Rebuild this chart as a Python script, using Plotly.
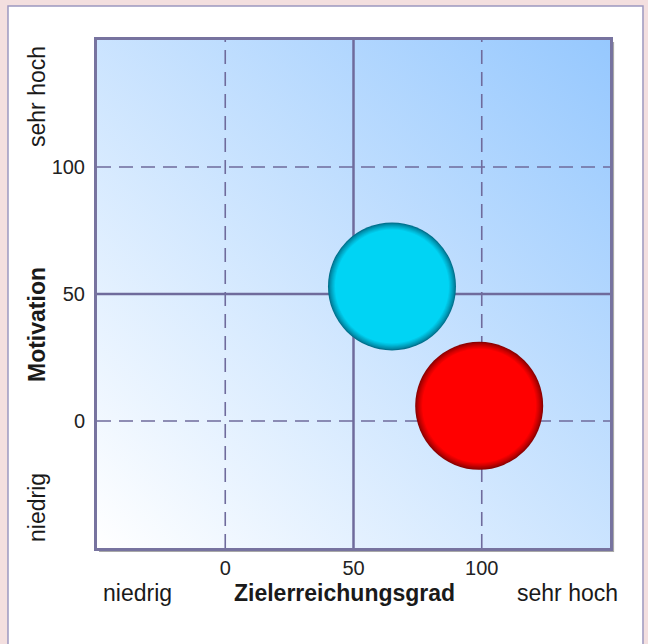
import plotly.graph_objects as go

# ---- data ----
SERIES = ["A", "B"]
X_VALUES = [65, 99]          # Zielerreichungsgrad
Y_VALUES = [53, 6]           # Motivation
BUBBLE_COLORS = ["#00d4f4", "#ff0000"]
RIM_COLORS = ["#00708c", "#8a0000"]
X_TICKS = [0, 50, 100]
Y_TICKS = [0, 50, 100]
X_RANGE = [-50, 150]
Y_RANGE = [-50, 150]
MID = 50

FONT = "Liberation Sans, Arial, sans-serif"
GRID_COLOR = "#6f6b9c"


def blend(c1, c2, t):
    a = [int(c1[i:i + 2], 16) for i in (1, 3, 5)]
    b = [int(c2[i:i + 2], 16) for i in (1, 3, 5)]
    return "#" + "".join(f"{round(a[k] + (b[k] - a[k]) * t):02x}" for k in range(3))


fig = go.Figure()

# bubbles: shaded rim rings + flat body
RING_SIZES = [128, 126, 124, 122, 120, 118, 116, 114]
for name, x, y, c, rim in zip(SERIES, X_VALUES, Y_VALUES, BUBBLE_COLORS, RIM_COLORS):
    n = len(RING_SIZES)
    for i, s in enumerate(RING_SIZES):
        t = (i / (n - 1)) ** 0.8
        fig.add_trace(go.Scatter(
            x=[x], y=[y], mode="markers", name=name, showlegend=False, hoverinfo="skip",
            marker=dict(size=s, color=blend(rim, c, t), line=dict(width=0)),
        ))

shapes = []
# white panel and border shadow (paper-level decoration)
shapes.append(dict(type="rect", xref="paper", yref="paper", x0=-0.1735, x1=1.0643,
                   y0=-0.25, y1=1.0669, layer="below",
                   fillcolor="white", line=dict(color="#9c98c0", width=1.5)))
shapes.append(dict(type="rect", xref="paper", yref="paper", x0=0.004, x1=1.008,
                   y0=-0.008, y1=0.996, layer="below",
                   fillcolor="#a8a8a8", line=dict(width=0)))
# grid lines (dashed, solid in the middle)
for v in X_TICKS:
    shapes.append(dict(type="line", xref="x", yref="y", x0=v, x1=v, y0=Y_RANGE[0], y1=Y_RANGE[1],
                       layer="between",
                       line=dict(color=GRID_COLOR, width=2.5 if v == MID else 1.6,
                                 dash="solid" if v == MID else "14px,8px")))
for v in Y_TICKS:
    shapes.append(dict(type="line", xref="x", yref="y", y0=v, y1=v, x0=X_RANGE[0], x1=X_RANGE[1],
                       layer="between",
                       line=dict(color=GRID_COLOR, width=2.5 if v == MID else 1.6,
                                 dash="solid" if v == MID else "14px,8px")))

svg = ("data:image/svg+xml;utf8,<svg xmlns='http://www.w3.org/2000/svg' width='100' height='100' "
       "preserveAspectRatio='none'><defs><linearGradient id='g' x1='0' y1='1' x2='1' y2='0'>"
       "<stop offset='0' stop-color='%23ffffff'/><stop offset='1' stop-color='%2396c8fe'/>"
       "</linearGradient></defs><rect width='100' height='100' fill='url(%23g)'/></svg>")

txt = dict(family=FONT, size=23, color="#1a1a1a")
annotations = [
    dict(text="niedrig", x=137, y=593),
    dict(text="<b>Zielerreichungsgrad</b>", x=344, y=593),
    dict(text="sehr hoch", x=567, y=593),
    dict(text="sehr hoch", x=37, y=97, textangle=-90),
    dict(text="<b>Motivation</b>", x=37, y=325, textangle=-90),
    dict(text="niedrig", x=37, y=508, textangle=-90),
]
L, R, T, B = 97, 38, 40, 96
W, H = 648, 644
pw, ph = W - L - R, H - T - B
ann = []
for a in annotations:
    ann.append(dict(text=a["text"], xref="paper", yref="paper",
                    x=(a["x"] - L) / pw, y=(H - B - a["y"]) / ph,
                    xanchor="center", yanchor="middle", showarrow=False,
                    textangle=a.get("textangle", 0), font=txt))

fig.update_layout(
    width=W, height=H,
    margin=dict(l=L, r=R, t=T, b=B, pad=0),
    paper_bgcolor="#f3dfdf",
    plot_bgcolor="rgba(0,0,0,0)",
    shapes=shapes,
    annotations=ann,
    images=[dict(source=svg, xref="x", yref="y", x=X_RANGE[0], y=Y_RANGE[1],
                 sizex=X_RANGE[1] - X_RANGE[0], sizey=Y_RANGE[1] - Y_RANGE[0],
                 sizing="stretch", layer="below")],
    xaxis=dict(range=X_RANGE, tickvals=X_TICKS, showgrid=False, zeroline=False,
               showline=True, mirror=True, linewidth=3, linecolor="#77739f",
               ticks="", tickfont=dict(family=FONT, size=20, color="#222")),
    yaxis=dict(range=Y_RANGE, tickvals=Y_TICKS, showgrid=False, zeroline=False,
               showline=True, mirror=True, linewidth=3, linecolor="#77739f",
               ticks="", ticklabelstandoff=5,
               tickfont=dict(family=FONT, size=20, color="#222")),
    showlegend=False,
)

fig.write_html("out.html", config={"displayModeBar": False},
               post_script="document.body.style.margin='0px';")
